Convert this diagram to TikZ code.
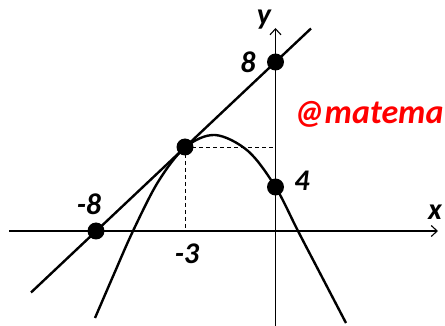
\documentclass[tikz,border=0pt]{standalone}
\usepackage{fontspec}
\setmainfont{Carlito}
\usetikzlibrary{arrows.meta}
\begin{document}
\begin{tikzpicture}[x=1pt,y=-1pt,
  axis/.style={line width=1.3pt,-{Straight Barb[length=6pt,width=11pt,line width=1.1pt]}},
  curve/.style={line width=2.4pt},
  guide/.style={line width=0.9pt,dash pattern=on 4pt off 3pt},
  dot/.style={circle,fill=black,inner sep=0pt,minimum size=17pt},
  lbl/.style={font=\fontsize{30}{30}\selectfont\bfseries\itshape,inner sep=0pt},
  wmark/.style={font=\fontsize{34}{34}\selectfont\bfseries\itshape,text=red,inner sep=0pt,anchor=base west}]
\useasboundingbox (0,0) rectangle (445,326);
% axes
\coordinate (xs) at (9,231);
\coordinate (xe) at (438,231);
\coordinate (ys) at (275.5,326);
\coordinate (ye) at (275.5,28);
\draw[axis] (xs) -- (xe);
\draw[axis] (ys) -- (ye);
% points
\coordinate (Pa) at (96,231);
\coordinate (Pb) at (275.5,62);
\coordinate (Pt) at (185,147);
\coordinate (Pc) at (275.5,187);
\coordinate (Ty) at (275.5,147);
\coordinate (Tx) at (185,231);
% dashed guides
\draw[guide] (Pt) -- (Ty);
\draw[guide] (Pt) -- (Tx);
% tangent line
\coordinate (L1) at (31,292.5);
\coordinate (L2) at (311,28.5);
\draw[curve] (L1) -- (L2);
% curve
\draw[curve] plot[smooth,tension=0.55] coordinates {(95,318) (114,274) (133,231) (158,182) (185,147.5) (215,135) (248,151) (275.5,187) (298,231) (322,277) (346,323)};
% dots
\node[dot] (A) at (Pa) {};
\node[dot] (B) at (Pb) {};
\node[dot] (T) at (Pt) {};
\node[dot] (C) at (Pc) {};
% labels
\node[lbl] (l8) at (248,62) {8};
\node[lbl] (l4) at (302,181) {4};
\node[lbl] (lm8) at (89,204) {-8};
\node[lbl] (lm3) at (187,254) {-3};
\node[lbl] (lx) at (435,212) {x};
\node[lbl] (ly) at (264,20) {y};
\node[wmark] (wm) at (294,124) {@matema};
\end{tikzpicture}
\end{document}
